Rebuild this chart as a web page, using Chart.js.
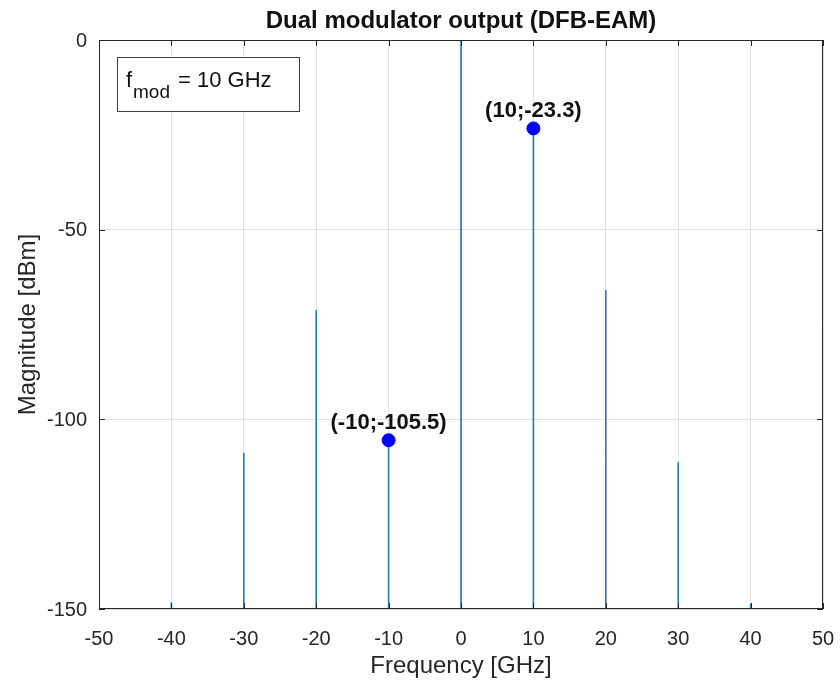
<!DOCTYPE html>
<html lang="en">
<head>
<meta charset="UTF-8">
<title>Dual modulator output (DFB-EAM)</title>
<script src="https://cdn.jsdelivr.net/npm/chart.js"></script>
<style>
  html, body { margin: 0; padding: 0; background: #fff; }
  #wrap { width: 840px; height: 684px; }
</style>
</head>
<body>
<div id="wrap"><canvas id="spectrum" width="840" height="684"></canvas></div>
<script>
    // Spectrum lines (GHz, dBm)
    const freqs = [-40, -30, -20, -10, 0, 10, 20, 30, 40];
    const magnitudes = [-148.2, -108.9, -71.2, -105.5, 0, -23.3, -65.9, -111.3, -148.6];
    // Marked sidebands
    const markFreqs = [10, -10];
    const markMags = [-23.3, -105.5];
    const xTicks = [-50, -40, -30, -20, -10, 0, 10, 20, 30, 40, 50];
    const yTicks = [-150, -100, -50, 0];
    const floorLevel = -150;

    const axisColor = '#262626';
    const fontFam = '"Liberation Sans", Arial, Helvetica, sans-serif';

    // each stem is a short segment from the floor, separated by a gap
    const stemPoints = [];
    freqs.forEach((f, i) => {
        stemPoints.push({ x: f, y: floorLevel });
        stemPoints.push({ x: f, y: magnitudes[i] });
        stemPoints.push({ x: f, y: null });
    });
    const markPoints = markFreqs.map((f, i) => ({ x: f, y: markMags[i] }));

    // box, inward ticks, tick labels, titles, annotations and the f_mod box
    const decorPlugin = {
        id: 'decor',
        afterDraw(chart) {
            const ctx = chart.ctx;
            const a = chart.chartArea;
            const xs = chart.scales.x, ys = chart.scales.y;
            ctx.save();
            ctx.strokeStyle = axisColor;
            ctx.lineWidth = 1;
            ctx.strokeRect(a.left + 0.5, a.top + 0.5, a.right - a.left - 1, a.bottom - a.top - 1);
            ctx.beginPath();
            xTicks.forEach(t => {
                const px = Math.round(xs.getPixelForValue(t)) + 0.5;
                ctx.moveTo(px, a.bottom); ctx.lineTo(px, a.bottom - 6);
                ctx.moveTo(px, a.top); ctx.lineTo(px, a.top + 6);
            });
            yTicks.forEach(t => {
                const py = Math.round(ys.getPixelForValue(t)) + 0.5;
                ctx.moveTo(a.left, py); ctx.lineTo(a.left + 6, py);
                ctx.moveTo(a.right, py); ctx.lineTo(a.right - 6, py);
            });
            ctx.stroke();

            // tick labels
            ctx.fillStyle = axisColor;
            ctx.font = '20px ' + fontFam;
            ctx.textAlign = 'center';
            ctx.textBaseline = 'alphabetic';
            xTicks.forEach(t => ctx.fillText(String(t), xs.getPixelForValue(t), a.bottom + 36));
            ctx.textAlign = 'right';
            ctx.textBaseline = 'middle';
            yTicks.forEach(t => ctx.fillText(String(t), a.left - 12, ys.getPixelForValue(t) + 1));

            // titles
            ctx.textAlign = 'center';
            ctx.textBaseline = 'alphabetic';
            ctx.fillStyle = '#111';
            ctx.font = 'bold 24px ' + fontFam;
            ctx.fillText('Dual modulator output (DFB-EAM)', (a.left + a.right) / 2, 28);

            ctx.fillStyle = axisColor;
            ctx.font = '24px ' + fontFam;
            ctx.fillText('Frequency [GHz]', (a.left + a.right) / 2, 673);
            ctx.save();
            ctx.translate(35, (a.top + a.bottom) / 2);
            ctx.rotate(-Math.PI / 2);
            ctx.fillText('Magnitude [dBm]', 0, 0);
            ctx.restore();

            // value labels above the marked points
            ctx.fillStyle = '#111';
            ctx.font = 'bold 22px ' + fontFam;
            markFreqs.forEach((f, i) => {
                const px = xs.getPixelForValue(f);
                const py = ys.getPixelForValue(markMags[i]);
                ctx.fillText('(' + f + ';' + markMags[i] + ')', px, py - 11);
            });

            // f_mod text box
            ctx.fillStyle = '#fff';
            ctx.fillRect(117, 57, 182, 54);
            ctx.strokeStyle = '#404040';
            ctx.strokeRect(117.5, 57.5, 182, 54);
            ctx.fillStyle = '#111';
            ctx.textAlign = 'left';
            ctx.font = '22px ' + fontFam;
            ctx.fillText('f', 126, 87);
            ctx.font = '19px ' + fontFam;
            ctx.fillText('mod', 133, 98);
            ctx.font = '22px ' + fontFam;
            ctx.fillText('= 10 GHz', 178, 87);
            ctx.restore();
        }
    };

    new Chart(document.getElementById('spectrum'), {
        type: 'scatter',
        data: {
            datasets: [
                {
                    data: markPoints,
                    showLine: false,
                    pointRadius: 6.5,
                    pointBackgroundColor: '#0000ff',
                    pointBorderColor: '#0000ff',
                    order: 0
                },
                {
                    data: stemPoints,
                    showLine: true,
                    spanGaps: false,
                    borderColor: '#1f7bb8',
                    borderWidth: 1.6,
                    pointRadius: 0,
                    order: 1
                }
            ]
        },
        options: {
            responsive: false,
            animation: false,
            layout: { padding: { top: 40, right: 17, left: 0, bottom: 0 } },
            plugins: {
                legend: { display: false },
                tooltip: { enabled: false }
            },
            scales: {
                x: {
                    type: 'linear',
                    min: -50, max: 50,
                    afterBuildTicks: s => { s.ticks = xTicks.map(v => ({ value: v })); },
                    afterFit: s => { s.height = 75; },
                    grid: { color: '#e2e2e2', drawTicks: false },
                    border: { display: false },
                    ticks: { display: false }
                },
                y: {
                    type: 'linear',
                    min: -150, max: 0,
                    afterBuildTicks: s => { s.ticks = yTicks.map(v => ({ value: v })); },
                    afterFit: s => { s.width = 99; },
                    grid: { color: '#e2e2e2', drawTicks: false },
                    border: { display: false },
                    ticks: { display: false }
                }
            }
        },
        plugins: [decorPlugin]
    });
</script>
</body>
</html>
